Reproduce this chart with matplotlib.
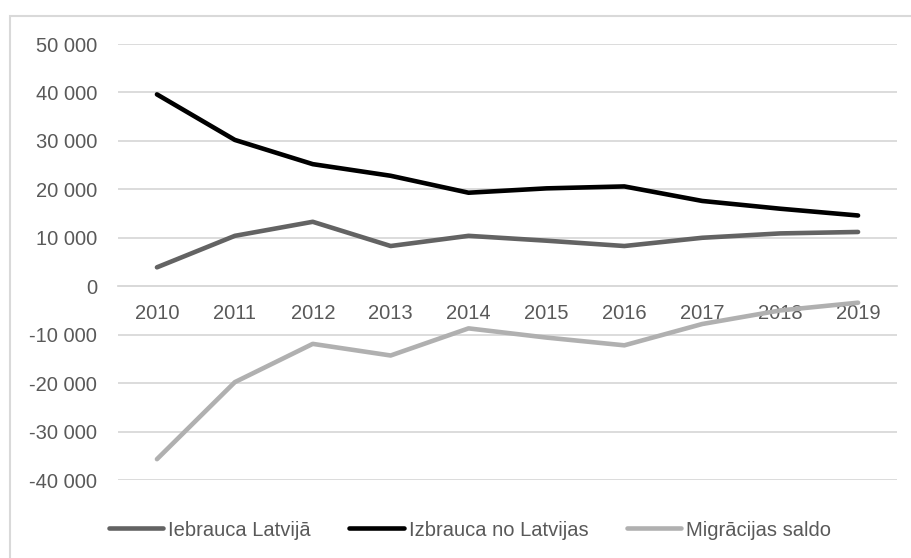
import numpy as np
import matplotlib
matplotlib.use("Agg")
import matplotlib.pyplot as plt
from matplotlib.patches import Rectangle
from matplotlib.ticker import FuncFormatter

# -----------------------------
# Data
# -----------------------------
years = ["2010", "2011", "2012", "2013", "2014", "2015", "2016", "2017", "2018", "2019"]
iebrauca = [3900, 10400, 13300, 8300, 10400, 9400, 8300, 10000, 10900, 11200]
izbrauca = [39600, 30200, 25200, 22800, 19300, 20200, 20600, 17600, 16000, 14600]
saldo = [-35700, -19800, -11900, -14300, -8700, -10600, -12200, -7800, -5000, -3400]

series_names = ["Iebrauca Latvijā", "Izbrauca no Latvijas", "Migrācijas saldo"]
series_colors = ["#636363", "#000000", "#b0b0b0"]

# -----------------------------
# Styling
# -----------------------------
plt.rcParams["font.family"] = ["Liberation Sans", "DejaVu Sans"]
text_color = "#595959"
grid_color = "#d9d9d9"
fs = 14.5

W, H = 912, 558
fig = plt.figure(figsize=(W / 100, H / 100), dpi=100)

# plot area in pixels: x 118..897, y 44..480
left, right, top, bottom = 118, 897, 44, 480
ax = fig.add_axes([left / W, 1 - bottom / H, (right - left) / W, (bottom - top) / H])

x = np.arange(len(years))
for vals, name, col in zip([iebrauca, izbrauca, saldo], series_names, series_colors):
    ax.plot(x, vals, color=col, lw=3.3, label=name, solid_capstyle="round",
            solid_joinstyle="round", zorder=3)

ax.set_xlim(-0.5, len(years) - 0.5)
ax.set_ylim(-40000, 50000)
ax.set_yticks(np.arange(-40000, 50001, 10000))
ax.yaxis.set_major_formatter(FuncFormatter(lambda v, p: f"{int(v):,}".replace(",", " ")))
ax.grid(axis="y", color=grid_color, lw=1.3, zorder=0)

for s in ["top", "right", "left"]:
    ax.spines[s].set_visible(False)
ax.spines["bottom"].set_position(("data", 0))
ax.spines["bottom"].set_color(grid_color)
ax.spines["bottom"].set_linewidth(1.3)

ax.set_xticks(x)
ax.set_xticklabels(years)
ax.tick_params(axis="x", length=0, pad=13, labelsize=fs, labelcolor=text_color)
ax.tick_params(axis="y", length=0, pad=15, labelsize=fs, labelcolor=text_color)

# legend at the bottom
fig.legend(loc="center left", bbox_to_anchor=(109 / W, 1 - 530 / H), ncol=3,
           frameon=False, fontsize=fs, labelcolor=text_color,
           handlelength=2.7, handletextpad=0.25, columnspacing=1.9,
           borderpad=0, borderaxespad=0)

# chart border (cropped on the right and bottom like the reference)
fig.patches.append(Rectangle((10 / W, -0.2), 1.2, 1 - 16 / H + 0.2,
                             transform=fig.transFigure, fill=False,
                             edgecolor=grid_color, lw=1.5))

fig.savefig("out.png", dpi=100)
plt.close(fig)
